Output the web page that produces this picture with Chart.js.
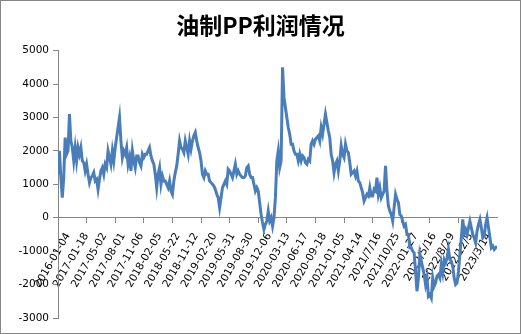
<!DOCTYPE html>
<html>
<head>
<meta charset="utf-8">
<title>油制PP利润情况</title>
<script src="https://cdn.jsdelivr.net/npm/chart.js@4.4.0/dist/chart.umd.min.js"></script>
<style>
  html, body { margin: 0; padding: 0; background: #fff; }
  #wrap { width: 521px; height: 334px; position: relative; }
</style>
</head>
<body>
<div id="wrap"><canvas id="profitChart"></canvas></div>
<script>
// 日期标签（每 64 个交易日一个）
const dateLabels = [
    '2016-01-04', '2017-01-18', '2017-05-02', '2017-08-01', '2017-11-06', '2018-02-05',
    '2018-05-22', '2018-11-12', '2019-02-20', '2019-05-31', '2019-08-30', '2019-12-06',
    '2020-03-13', '2020-06-17', '2020-09-18', '2021-01-05', '2021-04-14', '2021/7/16',
    '2021/10/25', '2022-01-27', '2022/5/16', '2022/8/29', '2022/12/5', '2023/3/14'
];

const LABEL_STEP = 64;   // 标签间隔（交易日）
const TICK_STEP = 100;   // 刻度线间隔（交易日）
const SAMPLE_STEP = 5;   // 每个取样点间隔的交易日数

// 油制PP利润（元/吨），每 5 个交易日一个点
const profit = [
    1300, 2000, 1200, 600, 1200, 2400, 1900, 2000, 3100, 2300, 2100, 1700, 2100, 1700, 2100, 1900,
    2100, 1700, 1650, 1400, 1600, 1300, 1050, 1200, 1250, 1350, 1100, 1150, 850, 1150, 1400, 1500,
    1300, 1600, 1500, 2000, 1800, 1600, 2000, 1700, 2100, 2400, 2700, 3000, 2300, 1800, 2000, 1900,
    2100, 1600, 1800, 1400, 2000, 1700, 1500, 1850, 1850, 1650, 1550, 1900, 1800, 1900, 1900, 2000,
    2100, 1850, 1700, 1600, 1300, 900, 1300, 1500, 1000, 1250, 1100, 1100, 1000, 900, 1100, 800,
    700, 1100, 1350, 1550, 1900, 2300, 2100, 2050, 1950, 2300, 2100, 1900, 2300, 2050, 2300, 2450,
    2550, 2300, 2100, 1950, 1700, 1300, 1200, 1400, 1300, 1300, 1100, 1050, 1000, 950, 850, 700,
    600, 300, 600, 900, 1000, 1100, 1000, 1450, 1400, 1300, 1200, 1400, 1600, 1300, 1400, 1300,
    1250, 1200, 1200, 1250, 1500, 1550, 1300, 1200, 1200, 1000, 800, 900, 800, 450, 100, -150,
    -350, -200, -100, 200, -100, 0, -250, 0, 600, 1700, 2000, 1500, 1700, 4500, 3600, 3300,
    3000, 2700, 2500, 2200, 2200, 2000, 1900, 1900, 1700, 1900, 1700, 1850, 1800, 1650, 1600, 1750,
    1700, 2200, 2300, 2200, 2350, 2400, 2450, 2300, 2700, 2500, 2800, 3100, 2850, 2600, 2400, 1900,
    1700, 1350, 1600, 1700, 1400, 1700, 2150, 1900, 1800, 2200, 2000, 1950, 1650, 1300, 1350, 1400,
    1250, 1400, 1100, 1050, 900, 750, 500, 600, 700, 650, 900, 650, 650, 850, 800, 1200,
    700, 900, 600, 700, 800, 1550, 800, 350, 200, 100, -100, 300, 700, 550, 450, 100,
    50, -100, -250, -200, -500, -500, -900, -900, -1000, -1050, -1600, -2200, -1800, -1100, -1300, -1500,
    -1700, -2000, -1800, -2350, -2300, -2400, -1800, -2050, -1950, -1750, -1700, -1800, -1400, -1650, -1250, -1350,
    -1200, -950, -1250, -1300, -1450, -1800, -2000, -1950, -1600, -1100, -600, -50, -450, -350, -500, -300,
    -100, -300, -500, -600, -750, -400, -200, -50, -300, -600, -550, -200, 0, -300, -600, -900,
    -850, -950, -900, -850
];

// Y 轴范围
const yMin = -3000;
const yMax = 5000;
const yStep = 1000;

const LAST_DAY = (profit.length - 1) * SAMPLE_STEP;
const AXIS_GRAY = '#868686';
const tickFont = { family: 'DejaVu Sans', size: 10.5 };

// 外框
const framePlugin = {
    id: 'frame',
    afterDraw(chart) {
        const ctx = chart.ctx;
        ctx.save();
        ctx.strokeStyle = AXIS_GRAY;
        ctx.lineWidth = 1;
        ctx.strokeRect(0.5, 0.5, chart.width - 1, chart.height - 1);
        ctx.restore();
    }
};

document.addEventListener('DOMContentLoaded', () => {
    const ctx = document.getElementById('profitChart').getContext('2d');
    new Chart(ctx, {
        type: 'line',
        data: {
            datasets: [{
                label: '油制PP利润',
                data: profit.map((v, i) => ({ x: i * SAMPLE_STEP, y: v })),
                borderColor: '#4a7ebb',
                borderWidth: 3,
                pointRadius: 0,
                tension: 0,
                fill: false
            }]
        },
        options: {
            responsive: true,
            maintainAspectRatio: false,
            animation: false,
            devicePixelRatio: 1,
            layout: {
                padding: { top: 0, right: 17, bottom: 16, left: 17 }
            },
            plugins: {
                legend: { display: false },
                tooltip: { enabled: false },
                title: {
                    display: true,
                    text: '油制PP利润情况',
                    color: '#000',
                    font: { family: 'Noto Sans CJK SC', size: 23, weight: 'bold' },
                    padding: { top: 11, bottom: 12 }
                }
            },
            scales: {
                // 日期标签，位于 0 轴下方
                x: {
                    type: 'linear',
                    position: { y: 0 },
                    min: 0,
                    max: LAST_DAY,
                    grid: { display: false, drawTicks: false },
                    border: { display: false },
                    ticks: {
                        stepSize: LABEL_STEP,
                        includeBounds: false,
                        maxTicksLimit: 100,
                        autoSkip: false,
                        minRotation: 60,
                        maxRotation: 60,
                        padding: 13,
                        labelOffset: 10,
                        color: '#000',
                        font: tickFont,
                        callback: value => dateLabels[Math.round(value / LABEL_STEP)] || ''
                    },
                    afterFit: scale => { scale.height = 0; }
                },
                // 0 轴线和刻度线
                xTicks: {
                    type: 'linear',
                    position: { y: 0 },
                    min: 0,
                    max: LAST_DAY,
                    grid: { drawOnChartArea: false, tickLength: 5, color: AXIS_GRAY },
                    border: { color: AXIS_GRAY },
                    ticks: {
                        display: false,
                        stepSize: TICK_STEP,
                        includeBounds: false,
                        maxTicksLimit: 100
                    },
                    afterFit: scale => { scale.height = 0; }
                },
                y: {
                    min: yMin,
                    max: yMax,
                    grid: { drawOnChartArea: false, tickLength: 5, color: AXIS_GRAY },
                    border: { color: AXIS_GRAY },
                    ticks: {
                        stepSize: yStep,
                        padding: 4,
                        color: '#000',
                        font: tickFont,
                        callback: value => String(value)
                    },
                    afterFit: scale => { scale.width = 41; }
                }
            }
        },
        plugins: [framePlugin]
    });
});
</script>
</body>
</html>
